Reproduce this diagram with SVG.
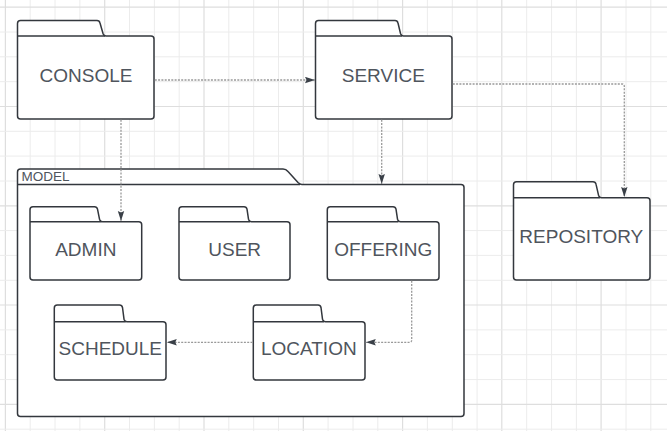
<svg xmlns="http://www.w3.org/2000/svg" width="667" height="431" viewBox="0 0 667 431">
<style>
.grid-minor{stroke:#ececec;stroke-width:1;fill:none}
.grid-major{stroke:#dedede;stroke-width:1.2;fill:none}
.folder{fill:#ffffff;stroke:#33373d;stroke-width:1.5;stroke-linejoin:round}
.sep{fill:none;stroke:#33373d;stroke-width:1.5}
.lbl{font-family:"Liberation Sans",Arial,sans-serif;font-size:19px;fill:#4f555d;text-anchor:middle}
.mlbl{font-family:"Liberation Sans",Arial,sans-serif;font-size:13.5px;fill:#4f555d}
.conn{fill:none;stroke:#999999;stroke-width:1.3;stroke-dasharray:2 1.3}
</style>
<defs>
<marker id="arr" markerUnits="userSpaceOnUse" markerWidth="11" markerHeight="8" refX="10" refY="3.5" orient="auto">
<path d="M0,0.3 L10,3.5 L0,6.7 L1.5,3.5 Z" fill="#3a4048"/>
</marker>
</defs>
<rect x="0" y="0" width="667" height="431" fill="#ffffff"/>
<g id="grid">
<path class="grid-minor" d="M30.2,0V431M55,0V431M79.9,0V431M129.5,0V431M154.4,0V431M179.2,0V431M228.8,0V431M253.7,0V431M278.5,0V431M328.1,0V431M353,0V431M377.8,0V431M427.4,0V431M452.3,0V431M477.1,0V431M526.7,0V431M551.6,0V431M576.4,0V431M626,0V431M650.8,0V431"/>
<path class="grid-major" d="M5.4,0V431M104.7,0V431M204,0V431M303.3,0V431M402.6,0V431M501.8,0V431M601.1,0V431"/>
<path class="grid-minor" d="M0,32H667M0,56.8H667M0,81.7H667M0,131.3H667M0,156.1H667M0,181H667M0,230.6H667M0,255.4H667M0,280.3H667M0,329.9H667M0,354.7H667M0,379.6H667M0,429.2H667"/>
<path class="grid-major" d="M0,7.2H667M0,106.5H667M0,205.8H667M0,305H667M0,404.3H667"/>
</g>
<g id="model">
<path class="folder" d="M17.5,184.5 V172 Q17.5,169 20.5,169 H283 Q286,169 288,171.5 L298,182.5 Q300,184.5 302,184.5 H461 Q464,184.5 464,187.5 V413.5 Q464,416.5 461,416.5 H20.5 Q17.5,416.5 17.5,413.5 Z"/>
<path class="sep" d="M17.5,184.5 H300"/>
<text class="mlbl" x="21.5" y="180.5">MODEL</text>
</g>
<g id="console">
<path class="folder" d="M17.5,36 V23.5 Q17.5,20.5 20.5,20.5 H97 Q99.5,20.5 100,23 L103,33.5 Q103.8,36 106,36 H151 Q154,36 154,39 V116 Q154,119 151,119 H20.5 Q17.5,119 17.5,116 Z"/>
<path class="sep" d="M17.5,36 H105"/>
<text class="lbl" x="86" y="81.7">CONSOLE</text>
</g>
<g id="service">
<path class="folder" d="M315.5,36 V23.5 Q315.5,20.5 318.5,20.5 H395 Q397.5,20.5 398,23 L400.5,33.5 Q401.3,36 403.5,36 H449 Q452,36 452,39 V116 Q452,119 449,119 H318.5 Q315.5,119 315.5,116 Z"/>
<path class="sep" d="M315.5,36 H402"/>
<text class="lbl" x="383.3" y="81.7">SERVICE</text>
</g>
<g id="repository">
<path class="folder" d="M513.5,197.7 V184.7 Q513.5,181.7 516.5,181.7 H593 Q595.5,181.7 596,184.2 L598.5,195.2 Q599.3,197.7 601.5,197.7 H647 Q650,197.7 650,200.7 V277 Q650,280 647,280 H516.5 Q513.5,280 513.5,277 Z"/>
<path class="sep" d="M513.5,197.7 H600"/>
<text class="lbl" x="581.3" y="243.3">REPOSITORY</text>
</g>
<g id="admin">
<path class="folder" d="M30,221.7 V209.7 Q30,206.7 33,206.7 H94.5 Q97,206.7 97.5,209.2 L99.5,219.2 Q100.3,221.7 102.5,221.7 H138.7 Q141.7,221.7 141.7,224.7 V277 Q141.7,280 138.7,280 H33 Q30,280 30,277 Z"/>
<path class="sep" d="M30,221.7 H101.5"/>
<text class="lbl" x="85.8" y="256">ADMIN</text>
</g>
<g id="user">
<path class="folder" d="M179,221.7 V209.7 Q179,206.7 182,206.7 H244 Q246.5,206.7 247,209.2 L248.5,219.2 Q249.3,221.7 251.5,221.7 H287 Q290,221.7 290,224.7 V277 Q290,280 287,280 H182 Q179,280 179,277 Z"/>
<path class="sep" d="M179,221.7 H250"/>
<text class="lbl" x="234.7" y="256">USER</text>
</g>
<g id="offering">
<path class="folder" d="M327.3,221.7 V209.7 Q327.3,206.7 330.3,206.7 H393 Q395.5,206.7 396,209.2 L397.5,219.2 Q398.3,221.7 400.5,221.7 H436 Q439,221.7 439,224.7 V277 Q439,280 436,280 H330.3 Q327.3,280 327.3,277 Z"/>
<path class="sep" d="M327.3,221.7 H398.5"/>
<text class="lbl" x="383.3" y="256">OFFERING</text>
</g>
<g id="schedule">
<path class="folder" d="M54.3,321.7 V308 Q54.3,305 57.3,305 H119.5 Q122,305 122.5,307.5 L124,319.2 Q124.8,321.7 127,321.7 H163 Q166,321.7 166,324.7 V377 Q166,380 163,380 H57.3 Q54.3,380 54.3,377 Z"/>
<path class="sep" d="M54.3,321.7 H125.7"/>
<text class="lbl" x="110.3" y="355">SCHEDULE</text>
</g>
<g id="location">
<path class="folder" d="M253.3,321.7 V308 Q253.3,305 256.3,305 H318 Q320.5,305 321,307.5 L322.5,319.2 Q323.3,321.7 325.5,321.7 H362 Q365,321.7 365,324.7 V377 Q365,380 362,380 H256.3 Q253.3,380 253.3,377 Z"/>
<path class="sep" d="M253.3,321.7 H324"/>
<text class="lbl" x="308.8" y="355">LOCATION</text>
</g>
<g id="connectors">
<path class="conn" d="M154.8,80 H315" marker-end="url(#arr)"/>
<path class="conn" d="M452.8,84 H622 Q624.3,84 624.3,86.3 V197" marker-end="url(#arr)"/>
<path class="conn" d="M381.7,119.8 V184" marker-end="url(#arr)"/>
<path class="conn" d="M121,119.8 V221" marker-end="url(#arr)"/>
<path class="conn" d="M411.7,280.8 V340 Q411.7,342.3 409.4,342.3 H365.8" marker-end="url(#arr)"/>
<path class="conn" d="M252.5,342.3 H166.8" marker-end="url(#arr)"/>
</g>
</svg>
